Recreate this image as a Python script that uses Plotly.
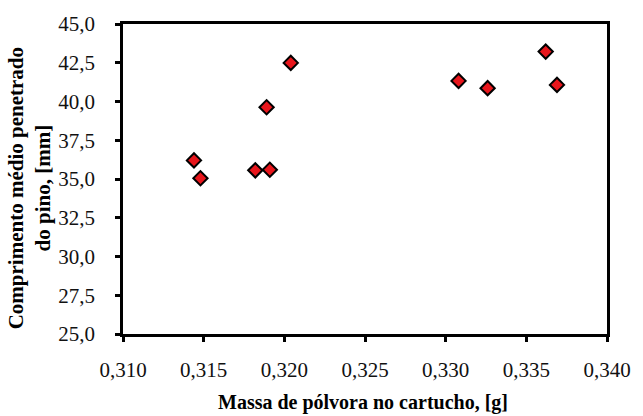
import plotly.graph_objects as go

# Data
massa_g = [0.3144, 0.3148, 0.3182, 0.3191, 0.3189, 0.3204, 0.3308, 0.3326, 0.3362, 0.3369]
comprimento_mm = [36.2, 35.05, 35.56, 35.6, 39.63, 42.49, 41.33, 40.86, 43.22, 41.07]

x_ticks = [0.310, 0.315, 0.320, 0.325, 0.330, 0.335, 0.340]
y_ticks = [25.0, 27.5, 30.0, 32.5, 35.0, 37.5, 40.0, 42.5, 45.0]
y_tick_labels = [f"{v:.1f}".replace(".", ",") + "\u00a0\u00a0\u00a0" for v in y_ticks]

x_title = "Massa de pólvora no cartucho, [g]"
y_title = "Comprimento médio penetrado<br>do pino, [mm]"

FONT = "Liberation Serif"

fig = go.Figure()
fig.add_trace(go.Scatter(
    x=massa_g, y=comprimento_mm, mode="markers",
    marker=dict(symbol="diamond", size=11, color="#e8161c",
                line=dict(color="black", width=2)),
    showlegend=False, cliponaxis=False,
))

axis_common = dict(
    showgrid=False, zeroline=False, showline=True, linecolor="black",
    linewidth=3, mirror=True, ticks="outside", ticklen=5, tickwidth=2.5,
    tickcolor="black", tickfont=dict(family=FONT, size=21, color="#111111"),
)

fig.update_xaxes(range=[0.310, 0.340], tickvals=x_ticks, tickformat=".3f",
                 ticklabelstandoff=10, **axis_common)
fig.update_yaxes(range=[25.0, 45.0], tickvals=y_ticks, ticktext=y_tick_labels,
                 **axis_common)

fig.add_annotation(text=x_title, xref="paper", yref="paper", x=0.495, y=0,
                   xanchor="center", yanchor="middle", yshift=-68, showarrow=False,
                   font=dict(family=FONT, size=20, color="black", weight="bold"))
fig.add_annotation(text=y_title, xref="paper", yref="paper", x=0, y=0.47,
                   xanchor="center", yanchor="middle", xshift=-94, textangle=-90,
                   showarrow=False,
                   font=dict(family=FONT, size=21, color="black", weight="bold"))

fig.update_layout(
    width=643, height=416, separators=", ",
    font=dict(family=FONT, color="black"),
    margin=dict(l=123, r=27, t=23, b=82),
    paper_bgcolor="white", plot_bgcolor="white",
)

fig.write_html("out.html")
